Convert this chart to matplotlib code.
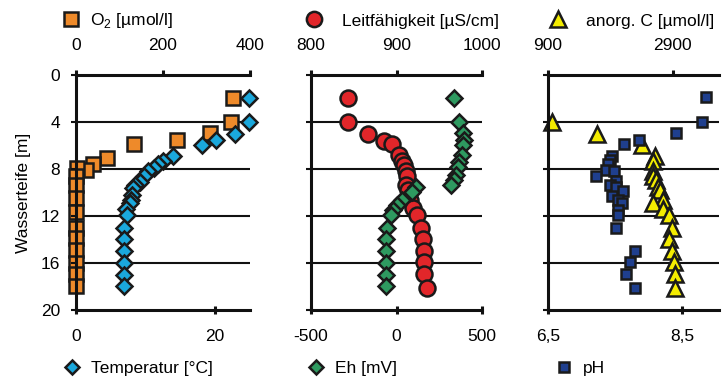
import matplotlib
matplotlib.use("Agg")
import matplotlib.pyplot as plt
from matplotlib.lines import Line2D
from matplotlib.ticker import FuncFormatter

plt.rcParams["font.family"] = ["Liberation Sans", "DejaVu Sans"]
plt.rcParams["axes.unicode_minus"] = False
plt.rcParams["mathtext.fontset"] = "custom"
plt.rcParams["mathtext.rm"] = "Liberation Sans"

# ---- depth profiles (depth in m) ----
o2_depth = [2.0, 4.0, 4.9, 5.5, 5.9, 7.1, 7.6, 8.1, 7.9, 8.6, 9.4, 10.5, 11.7,
            13.0, 13.9, 14.9, 16.0, 16.9, 18.0]
o2_val = [361, 356, 308, 232, 134, 71, 39, 22, 2, 0, 0, 0, 0, 0, 0, 0, 0, 0, 0]

temp_depth = [2.0, 4.0, 5.0, 5.5, 6.0, 6.9, 7.3, 7.6, 7.9, 8.2, 8.6, 9.1, 9.4,
              9.6, 10.2, 10.6, 10.9, 11.4, 11.9, 13.0, 14.0, 15.0, 16.0, 17.0, 18.0]
temp_val = [24.9, 24.9, 22.9, 20.1, 18.1, 13.9, 12.5, 11.8, 11.2, 10.4, 9.7, 9.2,
            8.5, 8.2, 8.0, 7.9, 7.7, 7.2, 7.3, 6.9, 6.9, 6.9, 6.9, 6.9, 6.9]

cond_depth = [2.0, 4.0, 5.0, 5.6, 5.9, 6.8, 7.3, 7.7, 8.2, 8.6, 9.4, 9.8, 10.6,
              11.3, 11.9, 13.0, 14.0, 15.0, 15.9, 16.9, 18.1]
cond_val = [843, 843, 867, 885, 895, 903, 906, 909, 911, 912, 911, 913, 916,
            919, 924, 929, 931, 932, 932, 932, 936]

eh_depth = [2.0, 4.0, 4.9, 5.5, 6.0, 6.8, 7.4, 7.8, 8.5, 8.9, 9.4, 9.5, 10.0,
            10.6, 11.1, 11.5, 11.9, 13.0, 14.0, 15.0, 16.0, 17.0, 18.0]
eh_val = [336, 365, 389, 392, 389, 380, 368, 360, 348, 336, 318, 114, 93,
          32, 3, -20, -32, -56, -61, -61, -61, -61, -61]

c_depth = [4.0, 5.0, 6.0, 6.9, 7.3, 8.2, 8.6, 8.9, 9.5, 9.8, 10.6, 10.9, 11.4,
           11.9, 13.0, 14.0, 15.0, 15.9, 16.9, 18.1]
c_val = [965, 1690, 2400, 2610, 2580, 2590, 2590, 2625, 2660, 2690, 2740, 2590,
         2740, 2835, 2880, 2835, 2880, 2915, 2930, 2930]

ph_depth = [1.9, 4.0, 4.9, 5.5, 5.9, 6.9, 7.2, 7.6, 8.1, 8.2, 8.6, 9.0, 9.4,
            9.5, 9.9, 10.3, 10.6, 10.9, 11.5, 11.9, 13.0, 15.0, 15.9, 16.9, 18.1]
ph_val = [8.86, 8.79, 8.41, 7.86, 7.63, 7.46, 7.43, 7.39, 7.37, 7.49, 7.22, 7.52,
          7.42, 7.52, 7.62, 7.46, 7.55, 7.60, 7.55, 7.55, 7.52, 7.79, 7.72, 7.66, 7.79]

depth_ticks = [0, 4, 8, 12, 16, 20]
grid_depths = [4, 8, 12, 16]

EDGE = "#1a1a1a"
FS = 12.5
MEW = 1.8

panels = [
    dict(rect=[0.1051, 0.1864, 0.2407, 0.6168],
         top=dict(x=o2_val, y=o2_depth, marker="s", ms=10.5, key_ms=10, color="#EE8A2A",
                  label="O$_\\mathregular{2}$ [µmol/l]", lim=(0, 400), ticks=[0, 200, 400]),
         bot=dict(x=temp_val, y=temp_depth, marker="D", ms=8.3, key_ms=7.5, color="#1AA8DC",
                  label="Temperatur [°C]", lim=(0, 25), ticks=[0, 20]),
         ylabels=True),
    dict(rect=[0.4302, 0.1864, 0.2365, 0.6168],
         top=dict(x=cond_val, y=cond_depth, marker="o", ms=11.5, key_ms=11, color="#E2262A",
                  label="Leitfähigkeit [µS/cm]", lim=(800, 1000), ticks=[800, 900, 1000]),
         bot=dict(x=eh_val, y=eh_depth, marker="D", ms=8.3, key_ms=7.5, color="#2E9A60",
                  label="Eh [mV]", lim=(-500, 500), ticks=[-500, 0, 500]),
         ylabels=False),
    dict(rect=[0.7580, 0.1864, 0.2365, 0.6168],
         top=dict(x=c_val, y=c_depth, marker="^", ms=12, key_ms=11, color="#F4EC00",
                  label="anorg. C [µmol/l]", lim=(900, 3640), ticks=[900, 2900]),
         bot=dict(x=ph_val, y=ph_depth, marker="s", ms=7.5, key_ms=7, color="#1F3F8E",
                  label="pH", lim=(6.5, 9.05), ticks=[6.5, 8.5],
                  fmt=lambda v, p: f"{v:.1f}".replace(".", ",")),
         ylabels=False),
]

# legend anchor positions (figure fraction) and text spacing per panel
top_leg = [(0.0858, 0.60), (0.4219, 1.13), (0.7594, 1.13)]
bot_leg = [(0.0871, 0.61), (0.4253, 0.61), (0.7684, 0.55)]

fig = plt.figure(figsize=(7.23, 3.81), dpi=100)

for i, p in enumerate(panels):
    ax = fig.add_axes(p["rect"])
    axt = ax.twiny()
    ax.set_zorder(axt.get_zorder() + 1)
    ax.patch.set_visible(False)

    ax.set_ylim(20, 0)
    ax.set_yticks(depth_ticks)

    for d in grid_depths:
        axt.axhline(d, color="#111111", lw=1.5, zorder=1)

    t, b = p["top"], p["bot"]
    axt.plot(t["x"], t["y"], ls="none", marker=t["marker"], ms=t["ms"],
             mfc=t["color"], mec=EDGE, mew=MEW, zorder=3, clip_on=False)
    ax.plot(b["x"], b["y"], ls="none", marker=b["marker"], ms=b["ms"],
            mfc=b["color"], mec=EDGE, mew=MEW, zorder=3, clip_on=False)

    axt.set_xlim(*t["lim"])
    axt.set_xticks(t["ticks"])
    ax.set_xlim(*b["lim"])
    ax.set_xticks(b["ticks"])
    if "fmt" in b:
        ax.xaxis.set_major_formatter(FuncFormatter(b["fmt"]))

    for s in ["top", "right"]:
        ax.spines[s].set_visible(False)
    for s in ["left", "bottom", "right"]:
        axt.spines[s].set_visible(False)
    ax.spines["left"].set_linewidth(2.2)
    ax.spines["bottom"].set_linewidth(2.2)
    axt.spines["top"].set_linewidth(2.2)
    for s in ax.spines.values():
        s.set_color("#111111")
    axt.spines["top"].set_color("#111111")

    ax.tick_params(axis="x", direction="inout", length=6, width=2.2,
                   labelsize=FS, pad=11, color="#111111")
    ax.tick_params(axis="y", direction="out", length=3.5, width=1.5,
                   labelsize=FS, pad=8, color="#111111",
                   labelleft=p["ylabels"])
    axt.tick_params(axis="x", direction="out", length=3.5, width=2.2,
                    labelsize=FS, pad=12, color="#111111")

    if p["ylabels"]:
        ax.set_ylabel("Wasserteife [m]", fontsize=FS, labelpad=7)

    # series keys above and below the panel
    for spec, (lx, pad), ly in ((t, top_leg[i], 0.945), (b, bot_leg[i], 0.032)):
        h = Line2D([], [], ls="none", marker=spec["marker"], ms=spec["key_ms"],
                   mfc=spec["color"], mec=EDGE, mew=MEW)
        fig.legend(handles=[h], labels=[spec["label"]], loc="center left",
                   bbox_to_anchor=(lx, ly), frameon=False, fontsize=FS,
                   handlelength=1.0, handletextpad=pad, borderpad=0,
                   borderaxespad=0)

fig.savefig("out.png", dpi=100)
